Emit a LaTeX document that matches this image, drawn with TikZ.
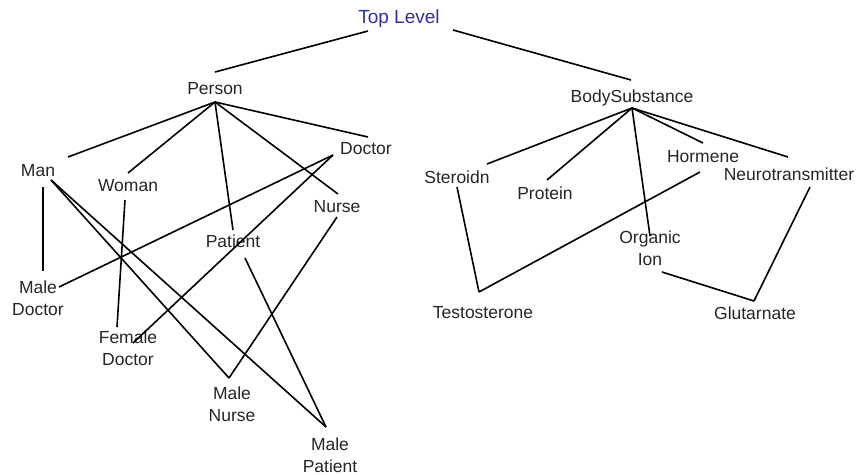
\documentclass[tikz,border=0pt]{standalone}
\usepackage{fontspec}
\setmainfont{Liberation Sans}
\definecolor{topblue}{RGB}{48,48,160}
\begin{document}
\begin{tikzpicture}[x=1pt,y=-1pt,
  lbl/.style={anchor=base,inner sep=0pt,align=center,font=\fontsize{17.5}{21.5}\selectfont,text=black!85},
  edge/.style={draw=black,line width=1.6pt}]
\useasboundingbox[fill=white] (0,0) rectangle (859,474);
% labels (two-line labels anchored at the baseline of their last line)
\node[lbl,text=topblue,font=\fontsize{19}{22}\selectfont] (top) at (399,23) {Top Level};
\node[lbl] (person) at (215,94) {Person};
\node[lbl] (doctor) at (366,154) {Doctor};
\node[lbl] (man) at (38,176) {Man};
\node[lbl] (woman) at (128,191) {Woman};
\node[lbl] (nurse) at (337,212) {Nurse};
\node[lbl] (patient) at (233,247) {Patient};
\node[lbl] (maledoc) at (38,315) {Male\\Doctor};
\node[lbl] (femdoc) at (128,365) {Female\\Doctor};
\node[lbl] (malenur) at (232,421) {Male\\Nurse};
\node[lbl] (malepat) at (330,472) {Male\\Patient};
\node[lbl] (body) at (632,102) {BodySubstance};
\node[lbl] (steroid) at (457,183) {Steroidn};
\node[lbl] (protein) at (545,199) {Protein};
\node[lbl] (hormene) at (703,162) {Hormene};
\node[lbl] (neuro) at (789,180) {Neurotransmitter};
\node[lbl] (organic) at (650,265) {Organic\\Ion};
\node[lbl] (testo) at (483,318) {Testosterone};
\node[lbl] (gluta) at (755,319) {Glutarnate};
% connection points
\coordinate (tl-l) at (368,31);
\coordinate (tl-r) at (453,30);
\coordinate (per-t) at (215,72);
\coordinate (per-b) at (215,102);
\coordinate (bs-t) at (631,80);
\coordinate (bs-b) at (632,108);
\coordinate (man-t) at (68,157);
\coordinate (man-b) at (43,187);
\coordinate (man-d) at (51,180);
\coordinate (wom-t) at (128,173);
\coordinate (wom-b) at (125,200);
\coordinate (pat-t) at (233,230);
\coordinate (pat-b) at (245,258);
\coordinate (nur-t) at (338,194);
\coordinate (nur-b) at (337,217);
\coordinate (doc-t) at (368,137);
\coordinate (doc-b) at (333,155);
\coordinate (md-t) at (43,271);
\coordinate (md-r) at (59,287);
\coordinate (fd-t) at (117,327);
\coordinate (fd-r) at (133,343);
\coordinate (mn-t) at (229,378);
\coordinate (mp-t) at (326,427);
\coordinate (ste-t) at (487,164);
\coordinate (ste-b) at (457,187);
\coordinate (pro-t) at (547,180);
\coordinate (hor-t) at (703,143);
\coordinate (hor-b) at (700,172);
\coordinate (neu-t) at (788,157);
\coordinate (neu-b) at (810,187);
\coordinate (org-t) at (650,236);
\coordinate (org-b) at (662,272);
\coordinate (tes-t) at (479,292);
\coordinate (glu-t) at (754,301);
% connectors
\draw[edge] (tl-l) -- (per-t);
\draw[edge] (tl-r) -- (bs-t);
\draw[edge] (per-b) -- (man-t);
\draw[edge] (per-b) -- (wom-t);
\draw[edge] (per-b) -- (pat-t);
\draw[edge] (per-b) -- (nur-t);
\draw[edge] (per-b) -- (doc-t);
\draw[edge] (doc-b) -- (md-r);
\draw[edge] (doc-b) -- (fd-r);
\draw[edge] (man-b) -- (md-t);
\draw[edge] (man-d) -- (mn-t);
\draw[edge] (man-d) -- (mp-t);
\draw[edge] (wom-b) -- (fd-t);
\draw[edge] (nur-b) -- (mn-t);
\draw[edge] (pat-b) -- (mp-t);
\draw[edge] (bs-b) -- (ste-t);
\draw[edge] (bs-b) -- (pro-t);
\draw[edge] (bs-b) -- (hor-t);
\draw[edge] (bs-b) -- (neu-t);
\draw[edge] (bs-b) -- (org-t);
\draw[edge] (ste-b) -- (tes-t);
\draw[edge] (hor-b) -- (tes-t);
\draw[edge] (neu-b) -- (glu-t);
\draw[edge] (org-b) -- (glu-t);
\end{tikzpicture}
\end{document}
